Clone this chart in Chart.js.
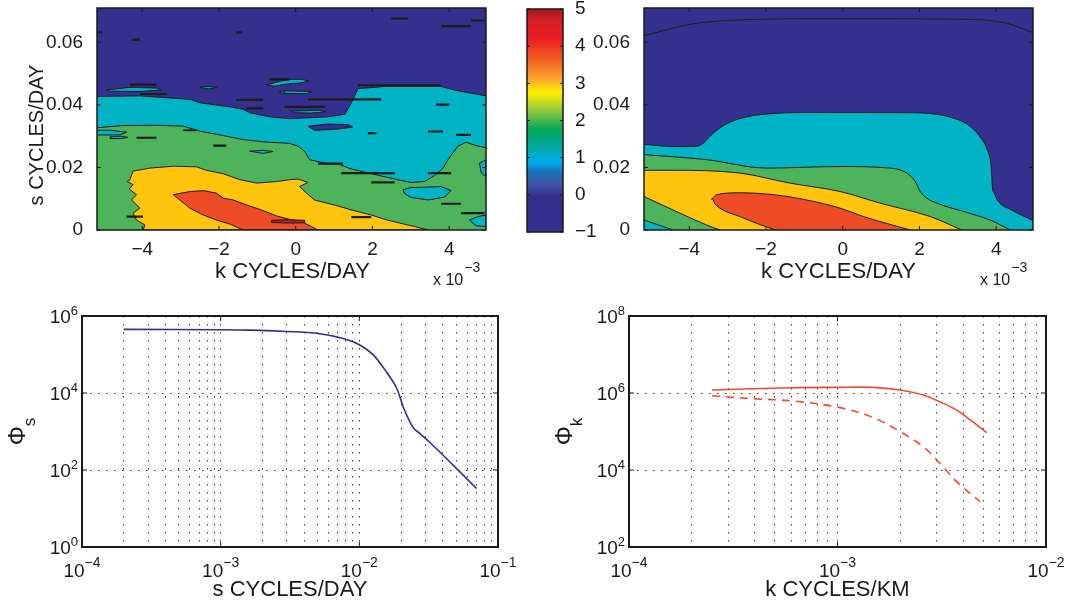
<!DOCTYPE html>
<html lang="en">
<head>
<meta charset="UTF-8">
<title>Frequency-wavenumber spectra</title>
<style>
    body { margin: 0; background: #fff; width: 1066px; height: 607px; overflow: hidden; position: relative; }
    canvas { position: absolute; }
</style>
<script src="https://cdn.jsdelivr.net/npm/chart.js@4.4.1/dist/chart.umd.min.js"></script>
</head>
<body>
<canvas id="tl" width="520" height="300" style="left:0;top:0"></canvas>
<canvas id="cb" width="110" height="270" style="left:500px;top:-10px"></canvas>
<canvas id="tr" width="526" height="300" style="left:540px;top:0"></canvas>
<canvas id="bl" width="530" height="307" style="left:0;top:300px"></canvas>
<canvas id="br" width="526" height="307" style="left:540px;top:300px"></canvas>
<script>
// ---- axes ----
const kMin = -5.18, kMax = 4.96;          // k in units of 1e-3 cycles/day
const sMax = 0.071;
const kTicks = [-4, -2, 0, 2, 4];
const sTicks = [0, 0.02, 0.04, 0.06];
const cbMin = -1, cbMax = 5;
const cbTicks = [-1, 0, 1, 2, 3, 4, 5];

// colour scale of the contour levels
const cbLevels = [-1, -0.05, 0.3, 0.62, 0.88, 1.25, 1.75, 2.25, 2.75, 3.1, 3.6, 4.2, 4.7, 5];
const cbColors = ['#342e8c', '#342e8c', '#3d56a4', '#1a74ba', '#00adef', '#00a9a6', '#00a85a',
                  '#8cc63f', '#fff100', '#fbaa2d', '#f26424', '#ec1c24', '#d21f26', '#9e1a1e'];

// ---- observed spectrum (top left), contour boundaries as [k, s] ----
const obsCyanTop = [[-5.18,0.0427],[-4.06,0.0429],[-3.37,0.0423],[-2.76,0.0418],[-2.50,0.0407],[-1.72,0.0394],
    [-1.37,0.0386],[-1.20,0.0375],[-0.68,0.0362],[-0.16,0.0356],[0.15,0.0358],[0.84,0.0362],[1.28,0.0370],
    [1.45,0.0407],[1.62,0.0452],[2.32,0.0459],[3.79,0.0459],[4.23,0.0445],[4.96,0.0429]];
const obsGreenTop = [[-5.18,0.0327],[-4.50,0.0334],[-3.63,0.0335],[-2.93,0.0332],[-2.50,0.0316],[-1.89,0.0302],
    [-1.37,0.0289],[-0.85,0.0282],[-0.16,0.0277],[0.06,0.0268],[0.23,0.0252],[0.36,0.0225],[0.76,0.0214],
    [1.10,0.0211],[1.45,0.0195],[1.97,0.0180],[2.58,0.0163],[3.01,0.0152],[3.36,0.0155],[3.62,0.0174],
    [3.84,0.0198],[3.97,0.0225],[4.10,0.0247],[4.23,0.0268],[4.44,0.0281],[4.70,0.0270],[4.96,0.0263]];
const obsYellow = [[-4.32,0.0161],[-4.24,0.0188],[-3.80,0.0198],[-3.19,0.0204],[-2.59,0.0202],[-2.33,0.0191],
    [-1.89,0.0180],[-1.46,0.0161],[-1.02,0.0150],[-0.50,0.0155],[-0.16,0.0161],[0.06,0.0163],[0.32,0.0152],
    [0.10,0.0139],[0.28,0.0118],[0.49,0.0096],[1.10,0.0077],[1.45,0.0064],[1.97,0.0048],[2.32,0.0034],
    [2.75,0.0021],[3.10,0.0011],[3.45,0],[-3.98,0],[-3.93,0.0016],[-4.15,0.0032],[-4.24,0.0054],
    [-4.06,0.0070],[-4.28,0.0096],[-4.15,0.0113],[-4.34,0.0131],[-4.24,0.0145],[-4.39,0.0155]];
const obsOrange = [[-3.19,0.0113],[-2.76,0.0123],[-2.41,0.0126],[-2.07,0.0118],[-1.89,0.0102],[-1.63,0.0096],
    [-1.28,0.0080],[-0.94,0.0066],[-0.50,0.0045],[-0.16,0.0034],[0.15,0.0027],[0.41,0.0011],[0.58,0],
    [-1.37,0],[-1.72,0.0019],[-2.07,0.0032],[-2.41,0.0048],[-2.76,0.0070],[-3.02,0.0096]];
const obsRed = [[-0.63,0.0031],[-0.16,0.0033],[0.23,0.0031],[0.23,0.0023],[-0.16,0.0022],[-0.63,0.0024]];
const obsBlueIslands = [
    [[0.32,0.0332],[0.84,0.0339],[1.36,0.0337],[1.49,0.0329],[1.02,0.0322],[0.49,0.0319]]
];
const obsCyanIslands = [
    [[-4.93,0.0448],[-4.32,0.0456],[-3.63,0.0454],[-3.50,0.0448],[-4.06,0.0443],[-4.84,0.0444]],
    [[-2.50,0.0456],[-2.28,0.0459],[-2.05,0.0456],[-2.28,0.0451]],
    [[-0.76,0.0464],[-0.40,0.0476],[-0.10,0.0482],[0.15,0.0482],[0.35,0.0476],[0.10,0.0470],[-0.30,0.0466],[-0.55,0.0460]],
    [[-0.42,0.0443],[-0.16,0.0447],[-0.16,0.0437],[-0.42,0.0439]],
    [[-0.29,0.0445],[0.41,0.0443],[0.30,0.0436],[-0.29,0.0437]],
    [[-0.11,0.0380],[0.60,0.0383],[0.80,0.0378],[0.40,0.0374],[-0.05,0.0375]],
    [[-5.18,0.0319],[-4.84,0.0319],[-4.41,0.0313],[-4.58,0.0304],[-5.18,0.0304]],
    [[-4.84,0.0298],[-4.58,0.0300],[-4.37,0.0296],[-4.58,0.0292],[-4.84,0.0293]],
    [[-1.20,0.0252],[-0.85,0.0255],[-0.59,0.0251],[-0.85,0.0245]],
    [[2.80,0.0129],[3.01,0.0136],[3.36,0.0137],[3.79,0.0139],[4.05,0.0126],[3.88,0.0105],[3.45,0.0096],[3.01,0.0104],[2.84,0.0116]],
    [[4.53,0.0032],[4.75,0.0043],[4.96,0.0048],[4.96,0.0011],[4.70,0.0013]],
    [[4.79,0.0214],[4.96,0.0225],[4.96,0.0171],[4.84,0.0182]]
];
// short closed contours, [k1, k2, s]
const obsStreaks = [[-4.32,-3.63,0.0465],[-4.06,-3.37,0.0435],[-1.55,-0.85,0.0416],[-1.28,-0.85,0.0389],
    [-5.18,-5.05,0.0632],[-4.28,-4.06,0.0609],[-1.55,-1.41,0.0632],[-0.68,-0.16,0.0482],[-2.15,-1.81,0.0270],
    [-4.15,-3.63,0.0295],[-2.93,-2.59,0.0319],[-4.41,-3.98,0.0043],[2.49,2.93,0.0676],[3.79,4.57,0.0652],
    [4.57,4.92,0.0670],[0.32,2.23,0.0418],[-0.29,0.76,0.0394],[1.88,2.10,0.0310],[3.45,3.84,0.0315],
    [3.66,4.01,0.0401],[4.18,4.57,0.0304],[0.58,1.23,0.0212],[1.19,2.58,0.0182],[1.97,2.58,0.0152],
    [3.79,4.31,0.0084],[1.45,1.97,0.0041],[4.31,4.92,0.0054],[3.45,4.05,0.0182],[1.62,3.79,0.0463]];

// ---- model spectrum (top right) ----
const modTopLine = [[-5.18,0.0621],[-3.98,0.0658],[-2.68,0.0672],[-0.07,0.0676],[3.14,0.0674],[4.28,0.0661],[4.96,0.0631]];
const modCyanTop = [[-5.18,0.0274],[-4.42,0.0267],[-3.81,0.0268],[-3.64,0.0277],[-3.46,0.0300],[-3.20,0.0327],
    [-2.94,0.0345],[-2.50,0.0362],[-1.98,0.0371],[-0.94,0.0376],[1.84,0.0375],[2.71,0.0364],[3.32,0.0332],
    [3.63,0.0289],[3.80,0.0246],[3.87,0.0203],[3.90,0.0139],[3.95,0.0118],[4.06,0.0091],[4.37,0.0066],[4.96,0.0030]];
const modGreenTop = [[-5.18,0.0241],[-3.55,0.0225],[-1.98,0.0198],[-0.07,0.0203],[1.23,0.0198],[1.67,0.0182],
    [1.89,0.0155],[2.02,0.0123],[2.19,0.0102],[2.45,0.0086],[3.15,0.0059],[3.84,0.0032],[4.37,0]];
const modYellowTop = [[-5.18,0.0191],[-4.42,0.0191],[-2.68,0.0182],[-1.38,0.0150],[-0.07,0.0123],[0.97,0.0086],[2.28,0.0043],[3.10,0]];
const modOrangeTop = [[-3.40,0.0099],[-3.29,0.0113],[-2.68,0.0119],[-1.81,0.0113],[-0.94,0.0096],[-0.07,0.0070],[0.54,0.0043],[1.76,0]];
const modOrangeLow = [[-3.43,0.0099],[-3.40,0.0099],[-3.33,0.0084],[-3.12,0.0064],[-2.68,0.0043],[-2.24,0.0021],[-1.75,0]];
const modYellowLow = [[-5.18,0.0107],[-4.42,0.0064],[-3.55,0.0016],[-3.20,0]];
const modCyanCorner = [[-5.18,0.0032],[-4.42,0]];

// ---- frequency spectrum (bottom left) ----
const sFreq = [2e-4, 1e-3, 1.63e-3, 3.0e-3, 4.9e-3, 7.65e-3, 1.0e-2, 1.26e-2, 1.57e-2, 1.86e-2, 2.07e-2, 2.32e-2, 2.5e-2, 2.7e-2, 3.3e-2, 4.6e-2, 7.0e-2];
const phiS  = [4.5e5, 4.4e5, 4.3e5, 3.95e5, 3.55e5, 2.6e5, 1.8e5, 9.8e4, 3.5e4, 1.33e4, 4.4e3, 1.75e3, 1.15e3, 920, 480, 150, 33];

// ---- wavenumber spectra (bottom right) ----
const kSolid   = [2.5e-4, 6.1e-4, 1.0e-3, 1.48e-3, 2.0e-3, 2.58e-3, 3.1e-3, 3.73e-3, 4.33e-3, 5.2e-3];
const phiSolid = [1.2e6, 1.37e6, 1.4e6, 1.4e6, 1.2e6, 8.9e5, 5.9e5, 3.6e5, 2.0e5, 9.3e4];
const kDashed   = [2.5e-4, 4.1e-4, 6.1e-4, 1.0e-3, 1.48e-3, 2.0e-3, 2.58e-3, 3.1e-3, 3.73e-3, 4.83e-3];
const phiDashed = [8.5e5, 7.0e5, 6.2e5, 4.3e5, 2.3e5, 9.9e4, 4.0e4, 1.5e4, 5.0e3, 1.5e3];

const blDecX = [-4, -3, -2, -1], blDecY = [0, 2, 4, 6];
const brDecX = [-4, -3, -2],     brDecY = [2, 4, 6, 8];

// ---- styling ----
const ink = '#1a1a1a';
const edge = '#1c1c1c';
const FONT = "'Liberation Sans', Arial, Helvetica, sans-serif";
const C = { blue: '#352f8d', cyan: '#00b4c6', green: '#4db45b', yellow: '#fec50c', orange: '#ee4b27', red: '#b8202a' };

Chart.defaults.font.family = FONT;
Chart.defaults.font.size = 19;
Chart.defaults.color = ink;
Chart.defaults.animation = false;
Chart.defaults.responsive = false;
Chart.defaults.events = [];
Chart.defaults.plugins.legend.display = false;
Chart.defaults.plugins.tooltip.enabled = false;
Chart.defaults.elements.point.radius = 0;

// fix axis thickness so every plot box lands where it should
const pin = size => scale => {
    if (scale.isHorizontal()) scale.height = size; else scale.width = size;
    scale.paddingTop = scale.paddingBottom = scale.paddingLeft = scale.paddingRight = 0;
};
const setTicks = vals => scale => { scale.ticks = vals.map(v => ({ value: v })); };
const minus = v => String(v).replace('-', '\u2212');
const pts = list => list.map(([x, y]) => ({ x, y }));
const xy = (xs, ys) => xs.map((x, i) => ({ x, y: ys[i] }));

// lowest contour level fills the whole box
const fieldPlugin = {
    id: 'field',
    beforeDatasetsDraw(chart, args, opts) {
        if (!opts.color) return;
        const a = chart.chartArea, ctx = chart.ctx;
        ctx.save();
        ctx.fillStyle = opts.color;
        ctx.fillRect(a.left, a.top, a.right - a.left, a.bottom - a.top);
        ctx.restore();
    }
};

// box around the axes plus inward tick marks
const framePlugin = {
    id: 'frame',
    afterDatasetsDraw(chart, args, opts) {
        const { ctx, chartArea: a, scales } = chart;
        const L = opts.len || 5;
        ctx.save();
        ctx.strokeStyle = ink;
        ctx.lineWidth = 1;
        ctx.beginPath();
        (opts.xTicks || []).forEach(v => {
            const p = scales.x.getPixelForValue(v);
            ctx.moveTo(p, a.bottom); ctx.lineTo(p, a.bottom - L);
            ctx.moveTo(p, a.top); ctx.lineTo(p, a.top + L);
        });
        (opts.yTicks || []).forEach(v => {
            const p = scales.y.getPixelForValue(v);
            ctx.moveTo(a.left, p); ctx.lineTo(a.left + L, p);
            ctx.moveTo(a.right, p); ctx.lineTo(a.right - L, p);
        });
        ctx.stroke();
        ctx.lineWidth = opts.width || 1.5;
        ctx.strokeRect(a.left, a.top, a.right - a.left, a.bottom - a.top);
        ctx.restore();
    }
};

const font = px => px + 'px ' + FONT;

function drawRich(ctx, it) {
    ctx.save();
    ctx.fillStyle = ink;
    ctx.textBaseline = 'alphabetic';
    ctx.textAlign = 'left';
    ctx.translate(it.x, it.y);
    if (it.rot) ctx.rotate(-Math.PI / 2);
    const extra = it.sub || it.sup || '';
    ctx.font = font(it.size);
    const w1 = ctx.measureText(it.t).width;
    ctx.font = font(it.small || it.size);
    const w2 = extra ? ctx.measureText(extra).width + (it.gap || 0) : 0;
    const x0 = it.align === 'left' ? 0 : it.align === 'right' ? -(w1 + w2) : -(w1 + w2) / 2;
    ctx.font = font(it.size);
    ctx.fillText(it.t, x0, 0);
    if (extra) {
        ctx.font = font(it.small || it.size);
        ctx.fillText(extra, x0 + w1 + (it.gap || 0), it.sub ? it.shift : -it.shift);
    }
    ctx.restore();
}

// axis titles, the x10^-3 multiplier and the 10^n tick labels
const notesPlugin = {
    id: 'notes',
    afterDraw(chart, args, opts) {
        const { ctx, chartArea: a, scales } = chart;
        (opts.items || []).forEach(it => drawRich(ctx, it));
        if (opts.powX) opts.powX.forEach(e => drawRich(ctx, {
            t: '10', sup: minus(e), x: scales.x.getPixelForValue(Math.pow(10, e)), y: a.bottom + 30,
            size: 19, small: 14, shift: 10
        }));
        if (opts.powY) opts.powY.forEach(e => drawRich(ctx, {
            t: '10', sup: minus(e), x: a.left - 4, y: scales.y.getPixelForValue(Math.pow(10, e)) + 7,
            size: 19, small: 13, shift: 8.5, align: 'right'
        }));
    }
};

// ---- contour layers ----
const band = (list, color, smooth) => ({
    data: pts(list), fill: 'origin', backgroundColor: color, borderColor: edge, borderWidth: 1,
    tension: 0, cubicInterpolationMode: smooth ? 'monotone' : 'default'
});
const patch = (list, color) => ({
    data: pts([...list, list[0]]), fill: 'shape', backgroundColor: color, borderColor: edge, borderWidth: 1, tension: 0
});
const contourLine = list => ({ data: pts(list), fill: false, borderColor: edge, borderWidth: 1, cubicInterpolationMode: 'monotone' });
const streakLine = list => {
    const data = [];
    list.forEach(([k1, k2, s]) => { data.push({ x: k1, y: s }, { x: k2, y: s }, { x: k2, y: null }); });
    return { data, fill: false, borderColor: edge, borderWidth: 2.2, spanGaps: false, tension: 0 };
};

function contourChart(id, layers, o) {
    return new Chart(document.getElementById(id), {
        type: 'line',
        data: { datasets: layers.map((l, i) => ({ ...l, order: layers.length - i, pointRadius: 0 })) },
        options: {
            layout: { padding: { left: 0, top: 8, right: o.right, bottom: 0 } },
            scales: {
                x: {
                    type: 'linear', min: kMin, max: kMax,
                    afterBuildTicks: setTicks(kTicks), afterFit: pin(70),
                    grid: { display: false }, border: { display: false },
                    ticks: { padding: 0, maxRotation: 0, autoSkip: false, callback: v => minus(v) }
                },
                y: {
                    type: 'linear', min: 0, max: sMax,
                    afterBuildTicks: setTicks(sTicks), afterFit: pin(o.left),
                    grid: { display: false }, border: { display: false },
                    ticks: { padding: 6, callback: v => v === 0 ? '0' : v.toFixed(2) }
                }
            },
            plugins: {
                field: { color: C.blue },
                frame: { xTicks: kTicks, yTicks: sTicks, len: 4 },
                notes: { items: o.notes }
            }
        },
        plugins: [fieldPlugin, framePlugin, notesPlugin]
    });
}

contourChart('tl', [
    band(obsCyanTop, C.cyan),
    ...obsBlueIslands.map(p => patch(p, C.blue)),
    band(obsGreenTop, C.green),
    ...obsCyanIslands.map(p => patch(p, C.cyan)),
    patch(obsYellow, C.yellow),
    patch(obsOrange, C.orange),
    patch(obsRed, C.red),
    streakLine(obsStreaks)
], {
    left: 97, right: 34,
    notes: [
        { t: 'k CYCLES/DAY', x: 292.5, y: 277.5, size: 22 },
        { t: 's CYCLES/DAY', x: 43, y: 135, size: 20, rot: true },
        { t: 'x 10', sup: '\u22123', x: 433, y: 284.5, size: 16, small: 14, shift: 13, gap: 1, align: 'left' }
    ]
});

contourChart('tr', [
    band(modCyanTop, C.cyan, true),
    band(modGreenTop, C.green, true),
    band(modYellowTop, C.yellow, true),
    band(modOrangeTop, C.orange, true),
    band(modOrangeLow, C.yellow, true),
    band(modYellowLow, C.green, true),
    band(modCyanCorner, C.cyan, true),
    contourLine(modTopLine)
], {
    left: 104, right: 33,
    notes: [
        { t: 'k CYCLES/DAY', x: 298.5, y: 277.5, size: 22 },
        { t: 'x 10', sup: '\u22123', x: 440, y: 284.5, size: 16, small: 14, shift: 13, gap: 1, align: 'left' }
    ]
});

// ---- colour bar ----
const jetFill = c => {
    const y = c.chart.scales.y;
    const y0 = y ? y.getPixelForValue(cbMin) : NaN, y1 = y ? y.getPixelForValue(cbMax) : NaN;
    if (!isFinite(y0) || !isFinite(y1) || y0 === y1) return cbColors[6];
    const g = c.chart.ctx.createLinearGradient(0, y0, 0, y1);
    cbLevels.forEach((v, i) => g.addColorStop((v - cbMin) / (cbMax - cbMin), cbColors[i]));
    return g;
};
new Chart(document.getElementById('cb'), {
    type: 'bar',
    data: { labels: [''], datasets: [{ data: [[cbMin, cbMax]], backgroundColor: jetFill, borderWidth: 0, barPercentage: 1, categoryPercentage: 1 }] },
    options: {
        layout: { padding: { left: 27, top: 19, right: 0, bottom: 28 } },
        scales: {
            x: { display: false },
            y: {
                position: 'right', min: cbMin, max: cbMax,
                afterBuildTicks: setTicks(cbTicks), afterFit: pin(47),
                grid: { display: false }, border: { display: false },
                ticks: { padding: 4, callback: v => minus(v) }
            }
        },
        plugins: { frame: { yTicks: cbTicks, len: 3 } }
    },
    plugins: [framePlugin]
});

// ---- log-log spectra ----
function logTicks(decades) {
    const out = [];
    decades.forEach((e, i) => {
        const d = Math.pow(10, e);
        out.push(d);
        if (i < decades.length - 1) for (let m = 2; m <= 9; m++) out.push(m * d);
    });
    return out;
}
const dotted = { color: '#3a3a3a', lineWidth: 1, drawTicks: false };

function logChart(id, datasets, o) {
    return new Chart(document.getElementById(id), {
        type: 'line',
        data: { datasets },
        options: {
            layout: { padding: { left: 0, top: 16, right: o.right, bottom: 0 } },
            scales: {
                x: {
                    type: 'logarithmic', min: Math.pow(10, o.decX[0]), max: Math.pow(10, o.decX[o.decX.length - 1]),
                    afterBuildTicks: setTicks(logTicks(o.decX)), afterFit: pin(60),
                    grid: dotted, border: { display: false, dash: [1.5, 6.5] }, ticks: { display: false }
                },
                y: {
                    type: 'logarithmic', min: Math.pow(10, o.decY[0]), max: Math.pow(10, o.decY[o.decY.length - 1]),
                    afterBuildTicks: setTicks(o.decY.map(e => Math.pow(10, e))), afterFit: pin(o.left),
                    grid: dotted, border: { display: false, dash: [1.5, 6.5] }, ticks: { display: false }
                }
            },
            plugins: {
                frame: { xTicks: o.decX.map(e => Math.pow(10, e)), yTicks: o.decY.map(e => Math.pow(10, e)), len: 5, width: 2 },
                notes: { items: o.notes, powX: o.decX, powY: o.decY }
            }
        },
        plugins: [framePlugin, notesPlugin]
    });
}

logChart('bl', [
    { data: xy(sFreq, phiS), borderColor: '#2f2f92', borderWidth: 1.6, tension: 0.3 }
], {
    decX: blDecX, decY: blDecY, left: 82, right: 32,
    notes: [
        { t: 's CYCLES/DAY', x: 290, y: 296, size: 22 },
        { t: '\u03A6', sub: 's', x: 25, y: 131.5, size: 24, small: 17, shift: 10, rot: true }
    ]
});

logChart('br', [
    { data: xy(kSolid, phiSolid), borderColor: '#ef4b30', borderWidth: 1.6, tension: 0.35 },
    { data: xy(kDashed, phiDashed), borderColor: '#ef4b30', borderWidth: 1.6, borderDash: [8, 6], tension: 0.35 }
], {
    decX: brDecX, decY: brDecY, left: 89, right: 20,
    notes: [
        { t: 'k CYCLES/KM', x: 297.5, y: 296, size: 22 },
        { t: '\u03A6', sub: 'k', x: 32, y: 131.5, size: 24, small: 17, shift: 10, rot: true }
    ]
});
</script>
</body>
</html>
